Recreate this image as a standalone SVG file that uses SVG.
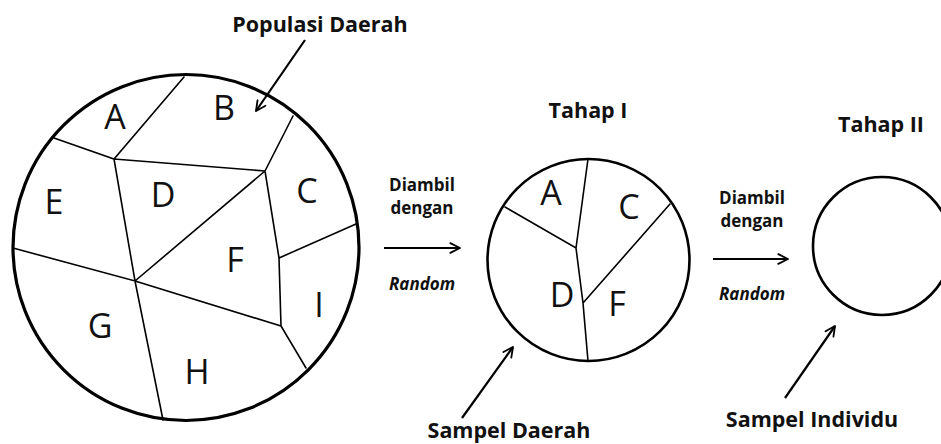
<svg xmlns="http://www.w3.org/2000/svg" width="941" height="444" viewBox="0 0 941 444">
  <style>
    .ring { fill: none; stroke: #000; }
    .part { fill: none; stroke: #000; stroke-width: 1.6; stroke-linecap: round; }
    .letter { font-family: "Open Sans", "Noto Sans", sans-serif; font-size: 34px; fill: #111; text-anchor: middle; }
    .label { font-family: "Open Sans", "Noto Sans", sans-serif; font-weight: 700; font-size: 21.5px; fill: #111; text-anchor: middle; }
    .small { font-family: "Open Sans", "Noto Sans", sans-serif; font-weight: 700; font-size: 17px; fill: #111; text-anchor: middle; }
    .ital { font-style: italic; font-size: 17px; }
    .arrow { fill: none; stroke: #000; stroke-width: 2.2; marker-end: url(#head); }
  </style>
  <defs>
    <marker id="head" viewBox="0 0 10 10" refX="9" refY="5" markerWidth="5.5" markerHeight="5.5" orient="auto" markerUnits="strokeWidth">
      <path d="M1,1 L9,5 L1,9" fill="none" stroke="#000" stroke-width="1.5" stroke-linecap="round" stroke-linejoin="round"/>
    </marker>
  </defs>
  <rect width="941" height="444" fill="#fff"/>

  <!-- regional population: nine areas -->
  <g id="populasi">
    <circle class="ring" cx="186" cy="247.5" r="173" stroke-width="3.2"/>
    <path class="part" d="M184,77 L114,159 L54,138 M114,159 L265,171 L293,116 M114,159 L135,281 L13,248 M265,171 L135,281 M265,171 L279,258 L356,224 M279,258 L281,326 L306,368 M135,281 L163,420 M135,281 L281,326"/>
    <text class="letter" x="115" y="129">A</text>
    <text class="letter" x="224" y="120">B</text>
    <text class="letter" x="307" y="203">C</text>
    <text class="letter" x="163" y="207">D</text>
    <text class="letter" x="54" y="214">E</text>
    <text class="letter" x="235" y="272">F</text>
    <text class="letter" x="100" y="338">G</text>
    <text class="letter" x="197" y="384">H</text>
    <text class="letter" x="319" y="317">I</text>
  </g>

  <!-- stage one: sampled areas -->
  <g id="tahap1">
    <circle class="ring" cx="588.5" cy="260" r="101" stroke-width="2.6"/>
    <path class="part" d="M588,159 L576,248 L505,207 M576,248 L583,303 L588,361 M583,303 L670,204"/>
    <text class="letter" x="551" y="205">A</text>
    <text class="letter" x="629" y="219">C</text>
    <text class="letter" x="562" y="307">D</text>
    <text class="letter" x="617" y="316">F</text>
  </g>

  <!-- stage two: individuals -->
  <g id="tahap2">
    <circle class="ring" cx="882" cy="246" r="69" stroke-width="2.6"/>
  </g>

  <g id="labels">
    <text class="label" x="320" y="32">Populasi Daerah</text>
    <text class="label" x="588" y="118">Tahap I</text>
    <text class="label" x="881" y="132">Tahap II</text>
    <text class="label" x="509" y="438">Sampel Daerah</text>
    <text class="label" x="812" y="427">Sampel Individu</text>
    <text class="small" x="422" y="191">Diambil</text>
    <text class="small" x="422" y="214">dengan</text>
    <text class="small ital" x="422" y="290">Random</text>
    <text class="small" x="752" y="204">Diambil</text>
    <text class="small" x="752" y="227">dengan</text>
    <text class="small ital" x="752" y="300">Random</text>
  </g>

  <g id="connectors">
    <path class="arrow" d="M305,40 L256,111"/>
    <path class="arrow" d="M384,248 L460,248"/>
    <path class="arrow" d="M713,259 L788,259"/>
    <path class="arrow" d="M462,418 L513,347"/>
    <path class="arrow" d="M785,398 L835,326"/>
  </g>
</svg>
